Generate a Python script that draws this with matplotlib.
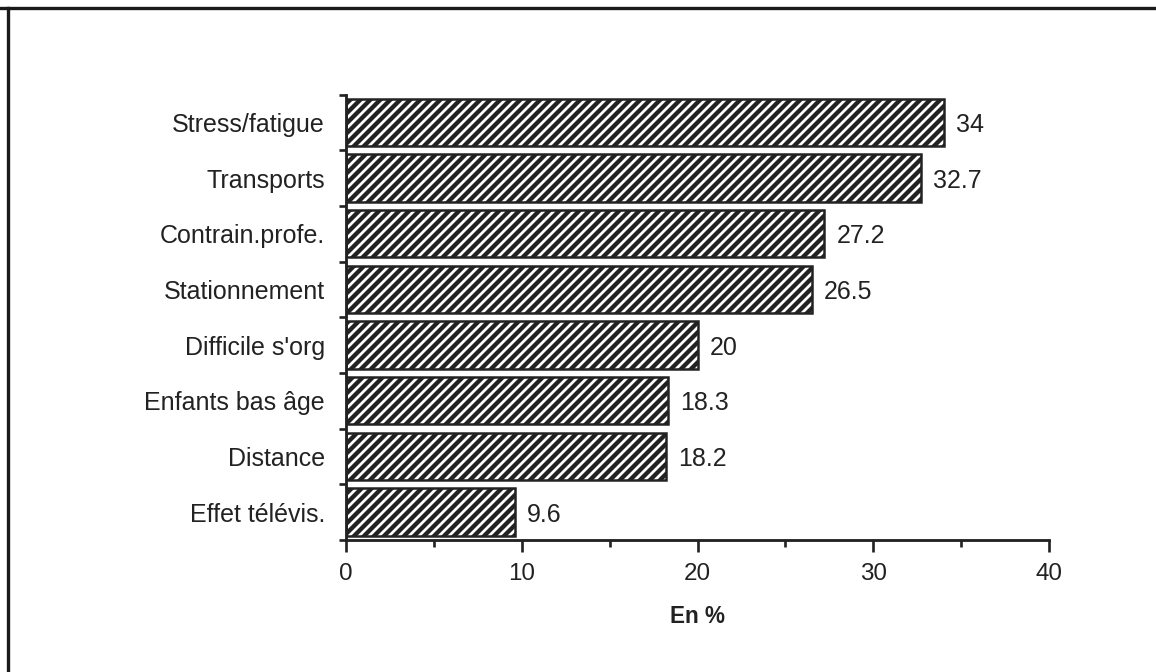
import matplotlib
matplotlib.use("Agg")
import matplotlib.pyplot as plt
from matplotlib.lines import Line2D
from matplotlib.ticker import MultipleLocator, FixedLocator, NullFormatter, FixedFormatter

categories = ["Stress/fatigue", "Transports", "Contrain.profe.", "Stationnement",
              "Difficile s'org", "Enfants bas âge", "Distance", "Effet télévis."]
values = [34, 32.7, 27.2, 26.5, 20, 18.3, 18.2, 9.6]
value_labels = ["34", "32.7", "27.2", "26.5", "20", "18.3", "18.2", "9.6"]
x_ticks = [0, 10, 20, 30, 40]
x_tick_labels = ["0", "10", "20", "30", "40"]
x_label = "En %"

DPI = 120
plt.rcParams["font.family"] = ["Liberation Sans", "DejaVu Sans"]
plt.rcParams["hatch.linewidth"] = 2.6
plt.rcParams["hatch.color"] = "#222222"

dark = "#222222"
fig = plt.figure(figsize=(1156 / DPI, 672 / DPI), dpi=DPI)
fig.patch.set_facecolor("white")
ax = fig.add_axes([346 / 1156, 1 - 540 / 672, (1049 - 346) / 1156, (540 - 94.5) / 672])

pos = list(range(len(categories)))
ax.barh(pos, values, height=0.85, facecolor="white", edgecolor=dark,
        linewidth=1.5, hatch="////")

for p, v, lab in zip(pos, values, value_labels):
    ax.annotate(lab, (v, p), xytext=(7.5, 0), textcoords="offset points",
                ha="left", va="center_baseline", fontsize=15, color=dark)

ax.set_xlim(0, 40)
ax.set_ylim(len(categories) - 0.5, -0.5)

# x axis
ax.xaxis.set_major_locator(FixedLocator(x_ticks))
ax.xaxis.set_major_formatter(FixedFormatter(x_tick_labels))
ax.xaxis.set_minor_locator(MultipleLocator(5))
ax.tick_params(axis="x", which="major", direction="out", length=7, width=1.6,
               pad=7, labelsize=14.5, colors=dark)
ax.tick_params(axis="x", which="minor", direction="out", length=4, width=1.6, colors=dark)

# y axis: ticks at category boundaries, labels at centres
ax.yaxis.set_major_locator(FixedLocator([i - 0.5 for i in range(len(categories) + 1)]))
ax.yaxis.set_major_formatter(NullFormatter())
ax.yaxis.set_minor_locator(FixedLocator(pos))
ax.yaxis.set_minor_formatter(FixedFormatter(categories))
ax.tick_params(axis="y", which="major", direction="out", length=4.2, width=1.6, colors=dark)
ax.tick_params(axis="y", which="minor", length=0, pad=12.6, labelsize=15, colors=dark)
for t in ax.yaxis.get_minorticklabels():
    t.set_verticalalignment("center_baseline")

for s in ["top", "right"]:
    ax.spines[s].set_visible(False)
for s in ["left", "bottom"]:
    ax.spines[s].set_linewidth(1.7)
    ax.spines[s].set_color(dark)

ax.set_xlabel(x_label, fontsize=13.5, fontweight="bold", color=dark)
ax.xaxis.set_label_coords(0.5, -0.145)

# frame of the scanned page
fig.add_artist(Line2D([0, 1], [1 - 7.5 / 672, 1 - 7.5 / 672], transform=fig.transFigure,
                      color="#1a1a1a", linewidth=2.0))
fig.add_artist(Line2D([7.5 / 1156, 7.5 / 1156], [0, 1 - 7.5 / 672], transform=fig.transFigure,
                      color="#1a1a1a", linewidth=2.0))

fig.savefig("out.png", dpi=DPI, facecolor="white")
